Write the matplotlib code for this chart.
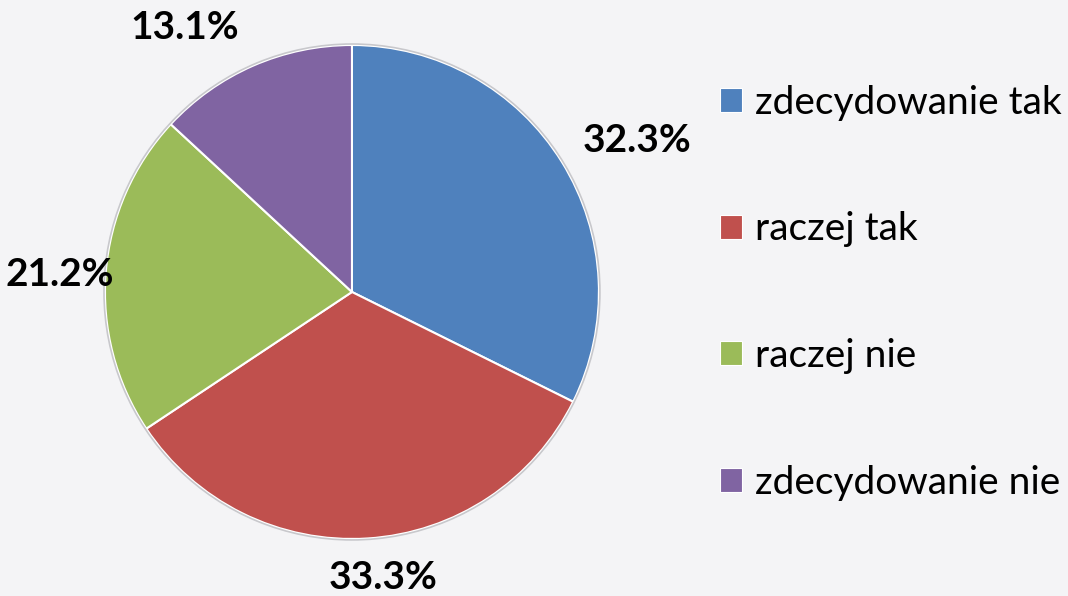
import matplotlib.pyplot as plt
from matplotlib.patches import Patch

plt.rcParams["font.family"] = ["Lato", "DejaVu Sans"]

# Survey answers and their shares (percent)
categories = ['zdecydowanie tak', 'raczej tak', 'raczej nie', 'zdecydowanie nie']
shares = [32.3, 33.3, 21.2, 13.1]
colors = ['#4F81BD', '#C0504D', '#9BBB59', '#8064A2']

# where each percent label sits (data units, pie radius = 1)
label_pos = [(1.154, 0.615), (0.126, -1.158), (-1.182, 0.069), (-0.676, 1.069)]

fig = plt.figure(figsize=(10.68, 5.96), dpi=100)
fig.patch.set_facecolor('#f4f4f6')

ax = fig.add_axes([0.0983, 0.0956, 0.4625, 0.829])
ax.set_facecolor('none')

wedges, _ = ax.pie(shares, colors=colors, startangle=90, counterclock=False,
                   radius=1, wedgeprops=dict(edgecolor='white', linewidth=1.5))
# faint grey rim like the original
ax.pie([1], radius=1.004, colors=['none'],
       wedgeprops=dict(edgecolor='#c8c8cc', linewidth=1.2, fill=False))

for val, (x, y) in zip(shares, label_pos):
    ax.text(x, y, f'{val:.1f}%', ha='center', va='center',
            fontsize=28, fontweight='bold', color='black')

ax.set_xlim(-1, 1)
ax.set_ylim(-1, 1)
ax.set_aspect('equal')
ax.axis('off')

handles = [Patch(facecolor=c, edgecolor='white', linewidth=0.8) for c in colors]
leg = fig.legend(handles, categories, loc='center left',
                 bbox_to_anchor=(0.674, 0.509), frameon=False,
                 borderpad=0, borderaxespad=0,
                 fontsize=28, labelspacing=2.33, handlelength=0.57,
                 handleheight=0.57, handletextpad=0.33)

fig.savefig('out.png', dpi=100, facecolor=fig.get_facecolor())
